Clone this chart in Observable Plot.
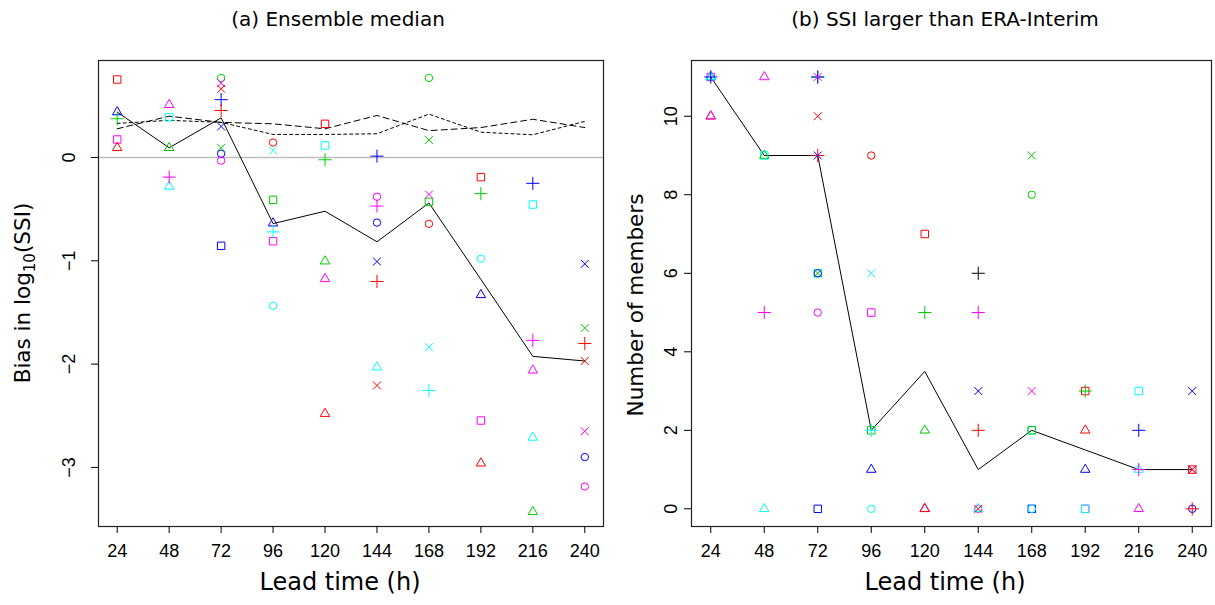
<!DOCTYPE html>
<html><head><meta charset="utf-8">
<script src="https://cdn.jsdelivr.net/npm/d3@7"></script>
<script src="https://cdn.jsdelivr.net/npm/@observablehq/plot@0.6"></script>
<style>
body{margin:0;background:#fff;}
#wrap{position:relative;width:1215px;height:605px;overflow:hidden;font-family:"DejaVu Sans",sans-serif;}
#wrap svg{position:absolute;top:0;}
.lbl{position:absolute;white-space:nowrap;color:#000;line-height:1;}
.title{font-family:"DejaVu Sans",sans-serif;font-size:20px;}
.axx{font-family:"DejaVu Sans",sans-serif;font-size:24px;}
.axy{font-family:"DejaVu Sans",sans-serif;font-size:21.5px;}
</style></head><body><div id="wrap"></div>
<script>
// ---------- data ----------
const leadTimes = [24, 48, 72, 96, 120, 144, 168, 192, 216, 240];
const biasYTicks = [-3, -2, -1, 0];
const memberYTicks = [0, 2, 4, 6, 8, 10];
const medianBias = [0.44, 0.094, 0.384, -0.64, -0.52, -0.816, -0.44, -1.18, -1.925, -1.97];
const refBiasLongDash = [0.278, 0.40, 0.34, 0.326, 0.278, 0.407, 0.26, 0.29, 0.37, 0.29];
const refBiasShortDash = [0.33, 0.36, 0.34, 0.223, 0.223, 0.23, 0.42, 0.245, 0.22, 0.35];
const medianMembers = [11, 9, 9, 2, 3.5, 1, 2, 1.5, 1, 1];

// [lead time, model (colour:symbol), value]
const biasPoints = [
  [24,"red:square",0.755],[24,"blue:triangle",0.44],[24,"green:plus",0.375],[24,"magenta:square",0.174],[24,"red:triangle",0.094],
  [48,"magenta:triangle",0.51],[48,"cyan:square",0.39],[48,"green:triangle",0.094],[48,"magenta:plus",-0.19],[48,"cyan:triangle",-0.28],
  [72,"green:circle",0.77],[72,"magenta:x",0.72],[72,"red:x",0.665],[72,"blue:plus",0.56],[72,"red:plus",0.455],[72,"blue:x",0.30],
  [72,"green:x",0.094],[72,"blue:circle",0.036],[72,"magenta:circle",-0.03],[72,"blue:square",-0.855],
  [96,"red:circle",0.145],[96,"cyan:x",0.068],[96,"green:square",-0.41],[96,"blue:triangle",-0.636],[96,"cyan:plus",-0.72],[96,"magenta:square",-0.81],[96,"cyan:circle",-1.435],
  [120,"red:square",0.326],[120,"cyan:square",0.116],[120,"green:plus",-0.022],[120,"green:triangle",-1.004],[120,"magenta:triangle",-1.175],[120,"red:triangle",-2.48],
  [144,"blue:plus",0.013],[144,"magenta:circle",-0.38],[144,"magenta:plus",-0.47],[144,"blue:circle",-0.63],[144,"blue:x",-1.007],[144,"red:plus",-1.2],[144,"cyan:triangle",-2.03],[144,"red:x",-2.207],
  [168,"green:circle",0.77],[168,"green:x",0.17],[168,"magenta:x",-0.358],[168,"green:square",-0.43],[168,"red:circle",-0.642],[168,"cyan:x",-1.836],[168,"cyan:plus",-2.255],
  [192,"red:square",-0.19],[192,"green:plus",-0.35],[192,"cyan:circle",-0.98],[192,"blue:triangle",-1.33],[192,"magenta:square",-2.546],[192,"red:triangle",-2.96],
  [216,"blue:plus",-0.25],[216,"cyan:square",-0.455],[216,"magenta:plus",-1.77],[216,"magenta:triangle",-2.06],[216,"cyan:triangle",-2.71],[216,"green:triangle",-3.43],
  [240,"blue:x",-1.03],[240,"green:x",-1.65],[240,"red:plus",-1.80],[240,"red:x",-1.97],[240,"magenta:x",-2.65],[240,"blue:circle",-2.90],[240,"magenta:circle",-3.185]
];

const memberPoints = [
  [24,"blue:triangle",11],[24,"green:triangle",11],[24,"cyan:triangle",11],[24,"magenta:square",11],[24,"blue:plus",11],
  [24,"red:triangle",10],[24,"magenta:triangle",10],
  [48,"magenta:triangle",11],[48,"cyan:square",9],[48,"green:triangle",9],[48,"magenta:plus",5],[48,"cyan:triangle",0],
  [72,"green:plus",11],[72,"magenta:x",11],[72,"blue:plus",11],[72,"red:x",10],[72,"red:plus",9],[72,"blue:x",9],
  [72,"cyan:square",6],[72,"blue:circle",6],[72,"green:x",6],[72,"magenta:circle",5],[72,"blue:square",0],
  [96,"red:circle",9],[96,"cyan:x",6],[96,"magenta:square",5],[96,"green:square",2],[96,"cyan:plus",2],[96,"blue:triangle",1],[96,"cyan:circle",0],
  [120,"red:square",7],[120,"green:plus",5],[120,"green:triangle",2],[120,"magenta:triangle",0],[120,"red:triangle",0],
  [144,"black:plus",6],[144,"magenta:plus",5],[144,"blue:x",3],[144,"red:plus",2],[144,"cyan:triangle",0],[144,"magenta:circle",0],[144,"red:x",0],
  [168,"green:x",9],[168,"green:circle",8],[168,"magenta:x",3],[168,"cyan:square",2],[168,"green:square",2],[168,"cyan:circle",0],[168,"blue:square",0],
  [192,"green:plus",3],[192,"red:square",3],[192,"red:triangle",2],[192,"blue:triangle",1],[192,"magenta:square",0],[192,"cyan:square",0],
  [216,"cyan:square",3],[216,"blue:plus",2],[216,"magenta:plus",1],[216,"cyan:triangle",1],[216,"magenta:triangle",0],
  [240,"blue:x",3],[240,"magenta:x",1],[240,"red:square",1],[240,"red:x",1],[240,"red:plus",0],[240,"blue:circle",0]
];

// ---------- styling ----------
const colorMap = {red:"#FF0000", green:"#00CD00", blue:"#0000FF", cyan:"#00FFFF", magenta:"#FF00FF", black:"#000000"};
const symbolName = {square:"square", circle:"circle", triangle:"triangle", plus:"plus", x:"times"};
const symbolR = {square:4.2, circle:3.7, triangle:3.5, plus:4.3, x:3.7};
const colOf = d => colorMap[d[1].split(":")[0]];
const symOf = d => d[1].split(":")[1];
const fmtInt = d => d < 0 ? "\u2212" + Math.abs(d) : String(d);

function pointMarks(data) {
  return Object.keys(symbolName).map(s => Plot.dot(data, {
    filter: d => symOf(d) === s,
    x: d => d[0], y: d => d[2],
    symbol: () => symbolName[s], r: symbolR[s],
    stroke: colOf, fill: "none", strokeWidth: 1
  }));
}
const series = vals => leadTimes.map((t, i) => ({t, v: vals[i]}));
const xDomain = [24 - 0.04 * 216, 240 + 0.04 * 216];
const baseStyle = {fontFamily: "Liberation Sans, Arial, sans-serif", fontSize: "18px", color: "#000", background: "#fff"};

const wrap = document.getElementById("wrap");

// ---------- panel (a) ----------
const plotA = Plot.plot({
  width: 607, height: 605,
  marginLeft: 98, marginRight: 4, marginTop: 60, marginBottom: 79,
  style: baseStyle,
  x: {domain: xDomain},
  y: {domain: [-3.572, 0.939]},
  symbol: {type: "identity"},
  color: {type: "identity"},
  marks: [
    Plot.ruleY([0], {stroke: "#bebebe", strokeWidth: 1.5}),
    Plot.line(series(refBiasLongDash), {x: "t", y: "v", stroke: "black", strokeWidth: 1, strokeDasharray: "6,4"}),
    Plot.line(series(refBiasShortDash), {x: "t", y: "v", stroke: "black", strokeWidth: 1, strokeDasharray: "3,3"}),
    Plot.line(series(medianBias), {x: "t", y: "v", stroke: "black", strokeWidth: 1}),
    ...pointMarks(biasPoints),
    Plot.frame({stroke: "#222", strokeWidth: 1.2}),
    Plot.axisX({ticks: leadTimes, tickSize: 7, tickPadding: 11, label: null, tickFormat: fmtInt}),
    Plot.axisY({ticks: biasYTicks, tickSize: 7, tickRotate: -90, tickPadding: 17, label: null, tickFormat: fmtInt})
  ]
});
plotA.style.left = "0px";
wrap.appendChild(plotA);

// ---------- panel (b) ----------
const plotB = Plot.plot({
  width: 608, height: 605,
  marginLeft: 84, marginRight: 4, marginTop: 60, marginBottom: 79,
  style: baseStyle,
  x: {domain: xDomain},
  y: {domain: [-0.45, 11.42]},
  symbol: {type: "identity"},
  color: {type: "identity"},
  marks: [
    Plot.line(series(medianMembers), {x: "t", y: "v", stroke: "black", strokeWidth: 1}),
    ...pointMarks(memberPoints),
    Plot.frame({stroke: "#222", strokeWidth: 1.2}),
    Plot.axisX({ticks: leadTimes, tickSize: 7, tickPadding: 11, label: null, tickFormat: fmtInt}),
    Plot.axisY({ticks: memberYTicks, tickSize: 7, tickRotate: -90, tickPadding: 8, label: null, tickFormat: fmtInt})
  ]
});
plotB.style.left = "607px";
wrap.appendChild(plotB);

// ---------- titles and axis labels ----------
function addLabel(html, cls, cx, cy, rot) {
  const el = document.createElement("div");
  el.className = "lbl " + cls;
  el.innerHTML = html;
  el.style.left = cx + "px";
  el.style.top = cy + "px";
  el.style.transform = "translate(-50%,-50%)" + (rot ? " rotate(-90deg)" : "");
  wrap.appendChild(el);
}
addLabel("(a) Ensemble median", "title", 338, 19, false);
addLabel("(b) SSI larger than ERA-Interim", "title", 945, 19, false);
addLabel("Lead time (h)", "axx", 340, 582, false);
addLabel("Lead time (h)", "axx", 945, 582, false);
addLabel("Bias in log<sub style='font-size:0.7em;vertical-align:-0.3em'>10</sub>(SSI)", "axy", 25, 293, true);
addLabel("Number of members", "axy", 636, 305, true);
</script></body></html>
